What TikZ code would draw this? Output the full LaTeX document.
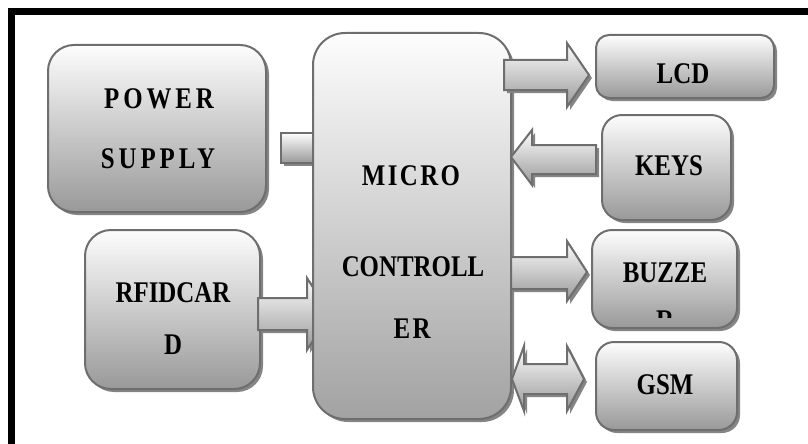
\documentclass[tikz,border=0pt]{standalone}
\usepackage{fontspec}
\newfontfamily\diafont{Liberation Serif Bold}[FakeStretch=0.83]
\newfontfamily\diafontwide{Liberation Serif Bold}[FakeStretch=0.83,LetterSpace=13]
\newfontfamily\diafontmid{Liberation Serif Bold}[FakeStretch=0.83,LetterSpace=8]
\usetikzlibrary{shadows}
\definecolor{bordergray}{HTML}{6E6E6E}
\definecolor{shadowgray}{HTML}{858585}
\definecolor{boxtop}{HTML}{FDFDFD}
\definecolor{boxbot}{HTML}{999999}
\definecolor{microbot}{HTML}{A2A2A2}
\begin{document}
\begin{tikzpicture}[x=1pt,y=-1pt,
  shad/.style={drop shadow={shadow xshift=3pt,shadow yshift=-3pt,fill=shadowgray,opacity=1}},
  box/.style={draw=bordergray,line width=2pt,rounded corners=#1,top color=boxtop,bottom color=boxbot,shad,inner sep=0pt,outer sep=0pt,rectangle},
  blockarrow/.style={draw=bordergray,line width=2pt,line join=miter,top color=boxtop,bottom color=boxbot,shad},
  txt/.style={font=\diafont\fontsize{30}{36}\selectfont,text=black,inner sep=0pt,anchor=base},
  txtwide/.style={txt,font=\diafontwide\fontsize{30}{36}\selectfont},
  txtmid/.style={txt,font=\diafontmid\fontsize{30}{36}\selectfont}
]
\useasboundingbox (0,0) rectangle (808,444);
% frame
\draw[line width=7pt,line join=miter] (812,11.7) -- (11.8,11.7) -- (11.8,448);

% left boxes
\node[box=26pt,minimum width=218pt,minimum height=167pt] (power) at (157,128.5) {};
\node[box=26pt,minimum width=175pt,minimum height=159pt] (rfid) at (172.5,309.5) {};

% power connector and rfid arrow (behind the controller)
\path[blockarrow] (281,133) rectangle (318,163);
\path[blockarrow] (258,298) -- (307,298) -- (307,278) -- (330,314) -- (307,350) -- (307,330) -- (258,330) -- cycle;

% micro controller
\node[box=32pt,minimum width=198pt,minimum height=386pt,bottom color=microbot] (micro) at (412,226) {};

% arrows on the right
\path[blockarrow] (504,60) -- (567,60) -- (567,43) -- (589,75) -- (567,107) -- (567,90) -- (504,90) -- cycle;
\path[blockarrow] (596,145) -- (532,145) -- (532,130) -- (511,157) -- (532,185) -- (532,174) -- (596,174) -- cycle;
\path[blockarrow] (511,257) -- (567,257) -- (567,241) -- (587,272) -- (567,301) -- (567,289) -- (511,289) -- cycle;
\path[blockarrow] (512,379) -- (524,346) -- (524,364) -- (567,364) -- (567,346) -- (584,379) -- (567,411) -- (567,394) -- (524,394) -- (524,411) -- cycle;

% right boxes
\node[box=13pt,minimum width=178pt,minimum height=63pt] (lcd) at (685,66.5) {};
\node[box=20pt,minimum width=129pt,minimum height=105pt] (keys) at (666.5,167.5) {};
\node[box=20pt,minimum width=145pt,minimum height=98pt] (buzzer) at (664.5,279) {};
\node[box=18pt,minimum width=141pt,minimum height=88pt] (gsm) at (666.5,386) {};

% texts
\node[txtwide] (tpow1) at (159,108) {POWER};
\node[txtwide] (tpow2) at (158,168) {SUPPLY};
\node[txt] (trf1) at (173,302) {RFIDCAR};
\node[txt] (trf2) at (173,354) {D};
\node[txtmid] (tmc1) at (411,185) {MICRO};
\node[txt] (tmc2) at (413,276) {CONTROLL};
\node[txtmid] (tmc3) at (412,338) {ER};
\node[txt] (tlcd) at (683,83) {LCD};
\node[txt] (tkey) at (669,175) {KEYS};
\node[txt] (tbuz) at (665,282) {BUZZE};
\begin{scope}
  \clip (592,230) rectangle (737,317);
  \node[txt] (tbuz2) at (665,330) {R};
\end{scope}
\node[txt] (tgsm) at (665,394) {GSM};
\end{tikzpicture}
\end{document}
